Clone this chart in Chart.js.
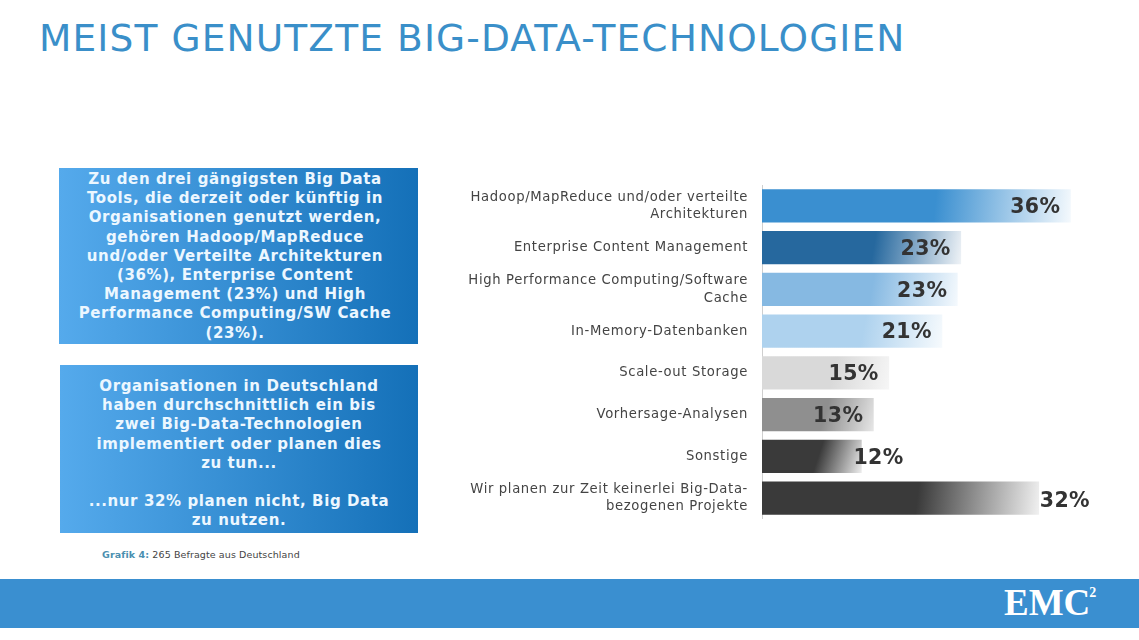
<!DOCTYPE html>
<html>
<head>
<meta charset="utf-8">
<title>Meist genutzte Big-Data-Technologien</title>
<script src="https://cdn.jsdelivr.net/npm/chart.js@4/dist/chart.umd.min.js"></script>
<style>
  html, body { margin: 0; padding: 0; background: #fff; }
  body { width: 1139px; height: 640px; position: relative; overflow: hidden; font-family: "DejaVu Sans", sans-serif; }
  #title { position: absolute; left: 39px; top: 15px; font-size: 37.5px; line-height: 46px; letter-spacing: 1.13px; color: #3a8fc9; white-space: nowrap; }
  .box { position: absolute; background: linear-gradient(90deg, #55aaec, #1470b8); color: #ecf7ff; font-weight: bold; font-size: 15px; line-height: 19.2px; letter-spacing: 0.6px; text-align: center; white-space: nowrap; box-sizing: border-box; }
  #box1 { left: 59px; top: 168px; width: 359px; height: 176px; padding-top: 2px; padding-right: 7px; }
  #box2 { left: 60px; top: 365px; width: 358px; height: 168px; padding-top: 12px; }
  #note { position: absolute; left: 102px; top: 548px; font-size: 9.5px; line-height: 13px; letter-spacing: 0.1px; color: #444; white-space: nowrap; }
  #note b { color: #4a8fb0; }
  #footer { position: absolute; left: 0; top: 579px; width: 1139px; height: 49px; background: #3a8fd0; }
  #logo { position: absolute; left: 1004px; top: 3px; font-family: "Liberation Serif", serif; font-weight: bold; font-size: 37px; line-height: 42px; color: #fff; white-space: nowrap; }
  #logo sup { font-size: 14px; line-height: 0; position: relative; top: -5px; left: -1px; }
  #chart { position: absolute; left: 450px; top: 185px; }
</style>
</head>
<body>
<div id="title">MEIST GENUTZTE BIG-DATA-TECHNOLOGIEN</div>
<div class="box" id="box1">Zu den drei gängigsten Big Data<br>Tools, die derzeit oder künftig in<br>Organisationen genutzt werden,<br>gehören Hadoop/MapReduce<br>und/oder Verteilte Architekturen<br>(36%), Enterprise Content<br>Management (23%) und High<br>Performance Computing/SW Cache<br>(23%).</div>
<div class="box" id="box2">Organisationen in Deutschland<br>haben durchschnittlich ein bis<br>zwei Big-Data-Technologien<br>implementiert oder planen dies<br>zu tun...<br><br>...nur 32% planen nicht, Big Data<br>zu nutzen.</div>
<div id="note"><b>Grafik 4:</b> 265 Befragte aus Deutschland</div>
<div id="footer"><div id="logo">EMC<sup>2</sup></div></div>
<canvas id="chart" width="689" height="334"></canvas>
<script>
const categories = [
  ['Hadoop/MapReduce und/oder verteilte', 'Architekturen'],
  'Enterprise Content Management',
  ['High Performance Computing/Software', 'Cache'],
  'In-Memory-Datenbanken',
  'Scale-out Storage',
  'Vorhersage-Analysen',
  'Sonstige',
  ['Wir planen zur Zeit keinerlei Big-Data-', 'bezogenen Projekte']
];
// bar lengths, the printed labels are the rounded figures
const values = [36, 23.2, 22.8, 21, 14.8, 13, 11.6, 32.3];
const valueLabels = ['36%', '23%', '23%', '21%', '15%', '13%', '12%', '32%'];

const barColors = ['#3a8fd0', '#26689e', '#86b9e2', '#aed2ee', '#d9d9d9', '#8f8f8f', '#3a3a3a', '#3a3a3a'];
const barEnds = ['#f4f9fd', '#eef2f6', '#f4f9fd', '#f6fafd', '#f6f6f6', '#e6e6e6', '#ececec', '#f0f0f0'];
const BAR_HEIGHT = 32.5;

function barGradient(context) {
  const chart = context.chart;
  const i = context.dataIndex;
  if (!chart.chartArea || i === undefined) return barColors[0];
  const xs = chart.scales.x, ys = chart.scales.y;
  const left = xs.getPixelForValue(0);
  const right = xs.getPixelForValue(values[i]);
  const mid = ys.getPixelForValue(i);
  const g = chart.ctx.createLinearGradient(left, mid - BAR_HEIGHT / 2, right, mid + BAR_HEIGHT / 2);
  g.addColorStop(0, barColors[i]);
  g.addColorStop(0.56, barColors[i]);
  g.addColorStop(1, barEnds[i]);
  return g;
}

const valueLabelPlugin = {
  id: 'valueLabels',
  beforeDraw(chart) {
    chart.ctx.letterSpacing = '0.64px';
  },
  afterDatasetsDraw(chart) {
    const ctx = chart.ctx;
    const bars = chart.getDatasetMeta(0).data;
    ctx.save();
    ctx.letterSpacing = '0.4px';
    ctx.font = 'bold 20.5px "DejaVu Sans"';
    ctx.fillStyle = '#333';
    ctx.textBaseline = 'middle';
    bars.forEach((bar, i) => {
      // most labels sit inside the bar end, the two dark bars carry them past it
      if (i === 6) {
        ctx.textAlign = 'left';
        ctx.fillText(valueLabels[i], bar.x - 8, bar.y + 2);
      } else if (i === 7) {
        ctx.textAlign = 'left';
        ctx.fillText(valueLabels[i], bar.x + 1, bar.y + 4);
      } else {
        ctx.textAlign = 'right';
        ctx.fillText(valueLabels[i], bar.x - 10, bar.y + 2);
      }
    });
    ctx.restore();
  }
};

new Chart(document.getElementById('chart'), {
  type: 'bar',
  data: {
    labels: categories,
    datasets: [{
      data: values,
      backgroundColor: barGradient,
      borderWidth: 0,
      barThickness: BAR_HEIGHT
    }]
  },
  options: {
    indexAxis: 'y',
    responsive: false,
    animation: false,
    layout: { padding: 0 },
    plugins: { legend: { display: false }, tooltip: { enabled: false }, title: { display: false } },
    scales: {
      x: { display: false, min: 0, max: 44 },
      y: {
        afterFit(scale) {
          scale.width = 312;
          scale.paddingTop = 0;
          scale.paddingBottom = 0;
        },
        grid: { display: false, drawTicks: false },
        border: { display: true, color: '#cfcfcf', width: 1 },
        ticks: {
          autoSkip: false,
          padding: 14,
          color: '#444',
          font: { family: '"DejaVu Sans"', size: 13.2, lineHeight: 1.32 }
        }
      }
    }
  },
  plugins: [valueLabelPlugin]
});
</script>
</body>
</html>
